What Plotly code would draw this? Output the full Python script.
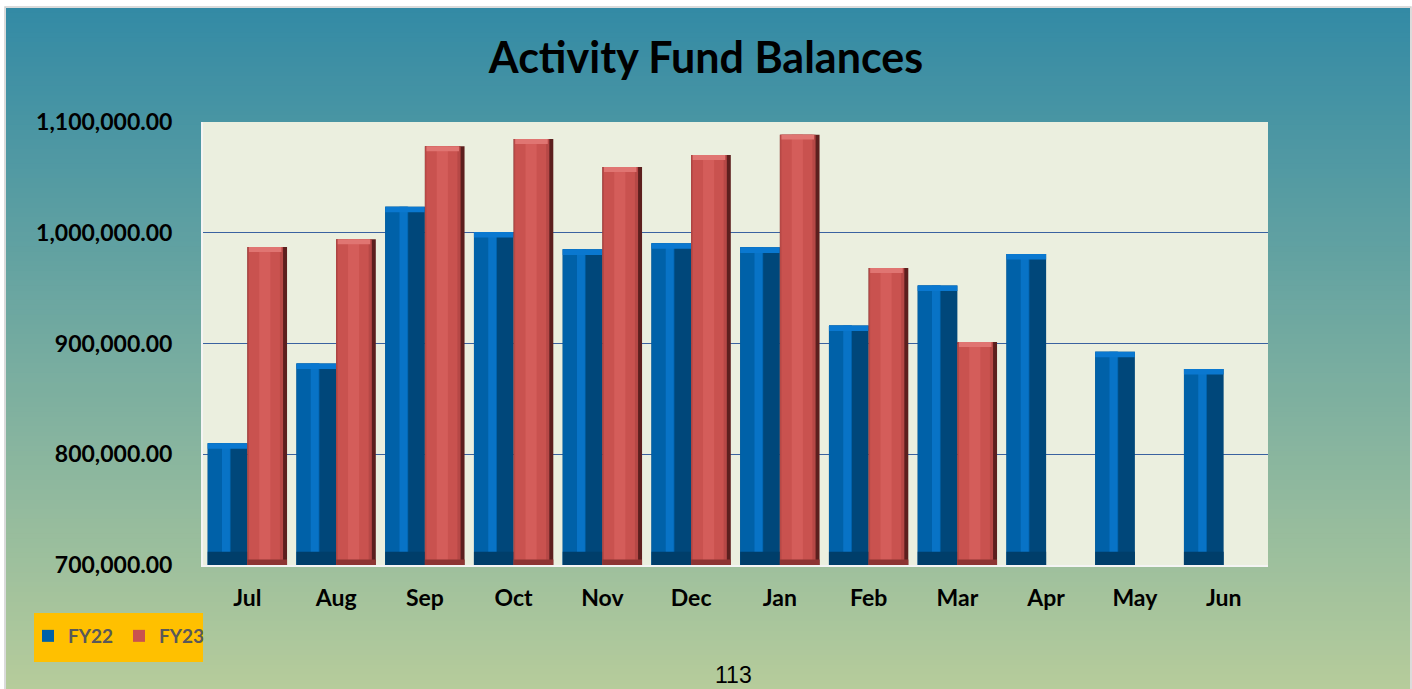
import plotly.graph_objects as go

months = ["Jul", "Aug", "Sep", "Oct", "Nov", "Dec", "Jan", "Feb", "Mar", "Apr", "May", "Jun"]
fy22 = [810000, 882000, 1023500, 1000700, 985000, 990500, 986800, 916200, 952400, 980800, 892600, 876900]
fy23 = [987100, 994100, 1078000, 1084700, 1059300, 1070200, 1088600, 968100, 901400, None, None, None]
y_ticks = [700000, 800000, 900000, 1000000, 1100000]

W, H = 1412, 689
ML, MR, MT, MB = 203, 144, 122, 124
PW, PH = W - ML - MR, H - MT - MB

def px_x(px):
    return (px - ML) / PW

def px_y(py):
    return (H - MB - py) / PH

BW = 0.447  # bar width in category units
fig = go.Figure()

def add_bar(vals, offset, width, color, name, show=False):
    fig.add_trace(go.Bar(
        x=months, y=vals, offset=offset, width=width, name=name,
        marker=dict(color=color, line=dict(width=0)),
        showlegend=show, legendgroup=name, hoverinfo="skip" if not show else None,
    ))

def add_cap(vals, offset, width, color, name, cap, at_top=True):
    ys, bs = [], []
    for v in vals:
        if v is None:
            ys.append(None); bs.append(None)
        else:
            ys.append(cap)
            bs.append(v - cap if at_top else 700000)
    fig.add_trace(go.Bar(
        x=months, y=ys, base=bs, offset=offset, width=width, name=name,
        marker=dict(color=color, line=dict(width=0)),
        showlegend=False, legendgroup=name, hoverinfo="skip",
    ))

# FY22 (blue, bevelled look)
o = -BW
add_bar(fy22, o, BW, "#00477a", "FY22")
add_bar(fy22, o, BW * 0.58, "#0061a8", "FY22", show=True)
add_bar(fy22, o + BW * 0.36, BW * 0.2, "#0873c6", "FY22")
add_cap(fy22, o, BW, "#0a78d0", "FY22", 5000, True)
add_cap(fy22, o, BW, "#003e6a", "FY22", 12000, False)

# FY23 (red, bevelled look)
o = 0.0
add_bar(fy23, o, BW, "#5c1f1e", "FY23")
add_bar(fy23, o, BW * 0.9, "#b64846", "FY23")
add_bar(fy23, o + BW * 0.04, BW * 0.78, "#c9524f", "FY23", show=True)
add_bar(fy23, o + BW * 0.3, BW * 0.28, "#d45d5a", "FY23")
add_cap(fy23, o + BW * 0.04, BW * 0.82, "#e07572", "FY23", 4500, True)
add_cap(fy23, o, BW, "#8d3533", "FY23", 5000, False)

# background gradient (bands) and plot area
shapes = []
top_c = (51, 138, 165)
bot_c = (182, 204, 155)
y0px, y1px = 8, H
n = 140
for i in range(n):
    t = (i + 0.5) / n
    c = tuple(int(round(top_c[k] + (bot_c[k] - top_c[k]) * t)) for k in range(3))
    a = y0px + (y1px - y0px) * i / n
    b = y0px + (y1px - y0px) * (i + 1) / n + 2
    shapes.append(dict(type="rect", xref="paper", yref="paper", layer="below",
                       x0=px_x(6), x1=px_x(1410), y0=px_y(b), y1=px_y(a),
                       fillcolor="rgb(%d,%d,%d)" % c, line=dict(width=0)))
shapes.append(dict(type="rect", xref="paper", yref="paper", layer="below",
                   x0=px_x(5), x1=px_x(1411), y0=px_y(H + 2), y1=px_y(7),
                   fillcolor="rgba(0,0,0,0)", line=dict(color="#d0d0d0", width=1.5)))
shapes.append(dict(type="rect", xref="paper", yref="paper", layer="below",
                   x0=0, x1=1, y0=0, y1=1, fillcolor="#ebefdf", line=dict(width=0)))
# legend box
shapes.append(dict(type="rect", xref="paper", yref="paper", layer="below",
                   x0=px_x(34), x1=px_x(203), y0=px_y(662), y1=px_y(613),
                   fillcolor="#ffc000", line=dict(width=0)))

fig.update_layout(
    width=W, height=H,
    margin=dict(l=ML, r=MR, t=MT, b=MB),
    paper_bgcolor="white",
    plot_bgcolor="rgba(0,0,0,0)",
    barmode="overlay",
    shapes=shapes,
    title=dict(text="<b>Activity Fund Balances</b>", x=0.5, xanchor="center",
               y=1 - 58 / H, yanchor="middle", yref="container",
               font=dict(family="Lato", size=43, color="black")),
    xaxis=dict(type="category", categoryorder="array", categoryarray=months,
               showgrid=False, showline=True, linecolor="#f4f4f4", linewidth=2,
               ticks="", ticklabelstandoff=11,
               tickfont=dict(family="Lato", size=23, color="black", weight="bold")),
    yaxis=dict(range=[700000, 1100000], tickvals=y_ticks, tickformat=",.2f",
               showgrid=True, gridcolor="#3a62a0", gridwidth=1,
               showline=True, linecolor="#f4f4f4", linewidth=2,
               zeroline=False, ticks="", ticklabelstandoff=24,
               tickfont=dict(family="Lato", size=23, color="black", weight="bold")),
    legend=dict(orientation="h", x=px_x(28), xanchor="left", y=px_y(617), yanchor="top",
                bgcolor="rgba(0,0,0,0)", borderwidth=0, itemwidth=30,
                entrywidth=46, entrywidthmode="pixels",
                font=dict(family="Lato", size=19, color="#595959", weight="bold"),
                traceorder="normal"),
    annotations=[dict(text="113", xref="paper", yref="paper", x=px_x(733), y=px_y(675),
                      xanchor="center", yanchor="middle", showarrow=False,
                      font=dict(family="Liberation Sans", size=23, color="black"))],
)

fig.write_html("out.html", config={"displayModeBar": False},
               post_script="document.body.style.margin='0';document.body.style.overflow='hidden';")
